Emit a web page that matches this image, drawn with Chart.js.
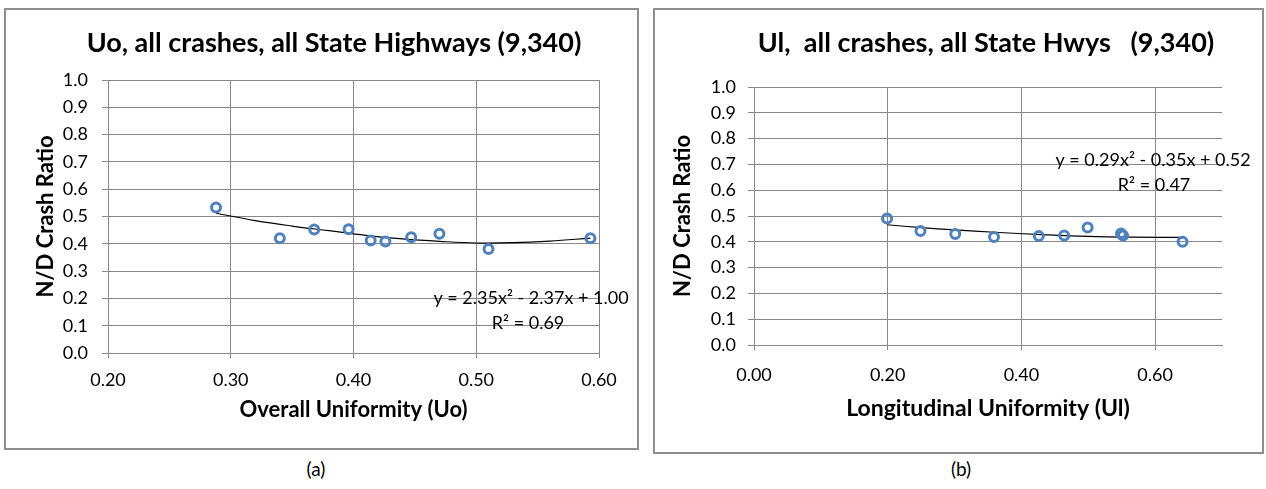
<!DOCTYPE html>
<html>
<head>
<meta charset="utf-8">
<script src="https://cdn.jsdelivr.net/npm/chart.js@4.4.1/dist/chart.umd.min.js"></script>
<style>
  html, body { margin: 0; padding: 0; background: #fff; }
  body { width: 1266px; height: 489px; position: relative; overflow: hidden; font-family: Lato, "Open Sans", sans-serif; }
  .box { position: absolute; border: 2px solid #8e8e8e; box-sizing: border-box; background: #fff; }
  .box canvas { display: block; }
  .cap { position: absolute; font-size: 19px; color: #000; transform: translateX(-50%); line-height: 22px; }
</style>
</head>
<body>
<div class="box" id="boxA" style="left:4px; top:8px; width:635px; height:442px;"><canvas id="cA"></canvas></div>
<div class="box" id="boxB" style="left:653px; top:8px; width:611px; height:446px;"><canvas id="cB"></canvas></div>
<div class="cap" style="left:316px; top:458px;">(a)</div>
<div class="cap" style="left:961px; top:458px;">(b)</div>
<script>
// ---------- data ----------
const titleA = "Uo, all crashes, all State Highways (9,340)";
const titleB = "Ul,  all crashes, all State Hwys   (9,340)";
const xTitleA = "Overall Uniformity (Uo)";
const xTitleB = "Longitudinal Uniformity (Ul)";
const yTitle = "N/D Crash Ratio";

const uoX = [0.288, 0.340, 0.368, 0.396, 0.414, 0.426, 0.447, 0.470, 0.510, 0.593];
const uoY = [0.533, 0.420, 0.452, 0.453, 0.412, 0.408, 0.424, 0.437, 0.381, 0.420];
const uoTrendX = [0.288, 0.32, 0.35, 0.38, 0.41, 0.44, 0.47, 0.50, 0.53, 0.56, 0.593];
const uoTrendY = [0.512, 0.485, 0.465, 0.448, 0.431, 0.418, 0.409, 0.403, 0.404, 0.410, 0.421];
const eqA = ["y = 2.35x\u00B2 - 2.37x + 1.00", "R\u00B2 = 0.69"];

const ulX = [0.199, 0.249, 0.301, 0.359, 0.426, 0.464, 0.499, 0.549, 0.552, 0.641];
const ulY = [0.490, 0.442, 0.430, 0.419, 0.422, 0.424, 0.455, 0.432, 0.424, 0.400];
const ulTrendX = [0.199, 0.25, 0.30, 0.36, 0.43, 0.50, 0.57, 0.641];
const ulTrendY = [0.466, 0.455, 0.446, 0.437, 0.428, 0.421, 0.418, 0.417];
const eqB = ["y = 0.29x\u00B2 - 0.35x + 0.52", "R\u00B2 = 0.47"];

const yTickLabels = ["0.0","0.1","0.2","0.3","0.4","0.5","0.6","0.7","0.8","0.9","1.0"];

// ---------- styling ----------
const FONT = "Lato, 'Open Sans', sans-serif";
const GRID = "#888888";
const BLUE = "#4F81BD";

function pts(xs, ys) { return xs.map((x, i) => ({x: x, y: ys[i]})); }

const textPlugin = {
  id: 'textPlugin',
  afterDraw(chart, args, opts) {
    const ctx = chart.ctx;
    ctx.save();
    ctx.fillStyle = '#000';
    ctx.textAlign = 'center';
    ctx.textBaseline = 'middle';
    ctx.font = "bold " + opts.titleSize + "px " + FONT;
    ctx.fillText(opts.title, opts.titleX, opts.titleY);
    ctx.font = opts.eqSize + "px " + FONT;
    ctx.fillText(opts.eq[0], opts.eqX, opts.eqY);
    ctx.fillText(opts.eq[1], opts.eqX2, opts.eqY + 25);
    ctx.restore();
  }
};

function makeChart(id, cfg) {
  const canvas = document.getElementById(id);
  canvas.width = cfg.w; canvas.height = cfg.h;
  canvas.style.width = cfg.w + 'px'; canvas.style.height = cfg.h + 'px';
  return new Chart(canvas, {
    type: 'scatter',
    data: {
      datasets: [
        {
          data: pts(cfg.px, cfg.py),
          pointStyle: 'circle',
          pointRadius: 4.5,
          pointBorderWidth: 3,
          borderColor: BLUE,
          backgroundColor: 'rgba(255,255,255,0)',
          showLine: false,
          order: 1
        },
        {
          data: pts(cfg.tx, cfg.ty),
          showLine: true,
          borderColor: '#000',
          borderWidth: 1.2,
          pointRadius: 0,
          tension: 0.4,
          order: 2
        }
      ]
    },
    plugins: [textPlugin],
    options: {
      responsive: false,
      animation: false,
      devicePixelRatio: 1,
      layout: { padding: { left: 0, top: cfg.areaTop, right: cfg.w - cfg.areaRight, bottom: 0 } },
      plugins: {
        legend: { display: false },
        tooltip: { enabled: false },
        title: { display: false },
        textPlugin: cfg.text
      },
      scales: {
        x: {
          type: 'linear',
          min: cfg.xmin, max: cfg.xmax,
          afterFit(s) { s.height = cfg.h - cfg.areaBottom; },
          grid: { color: GRID, lineWidth: 1, tickLength: 5, drawTicks: true },
          border: { display: true, color: GRID, width: 1 },
          ticks: {
            stepSize: cfg.xstep, includeBounds: false, padding: cfg.xTickPad,
            color: '#000', font: { family: FONT, size: 18 },
            callback: (v) => Number(v).toFixed(2)
          },
          title: { display: true, text: cfg.xTitle, color: '#000',
                   font: { family: FONT, size: cfg.xTitleSize, weight: 'bold' },
                   padding: { top: 0, bottom: cfg.xTitlePad } }
        },
        y: {
          type: 'linear',
          min: 0, max: 1,
          afterFit(s) { s.width = cfg.areaLeft; },
          grid: { color: GRID, lineWidth: 1, tickLength: 6, drawTicks: true },
          border: { display: true, color: GRID, width: 1 },
          ticks: {
            stepSize: 0.1, padding: cfg.yTickPad,
            color: '#000', font: { family: FONT, size: 18 },
            callback: (v, i) => yTickLabels[Math.round(v * 10)]
          },
          title: { display: true, text: yTitle, color: '#000',
                   font: { family: FONT, size: 22, weight: 'bold' },
                   padding: { top: cfg.yTitlePad, bottom: 0 } }
        }
      }
    }
  });
}

makeChart('cA', {
  w: 631, h: 438,
  areaLeft: 102, areaRight: 593, areaTop: 70, areaBottom: 343,
  xmin: 0.2, xmax: 0.6, xstep: 0.1,
  xTickPad: 11, yTickPad: 14, xTitlePad: 25, yTitlePad: 27, xTitleSize: 22,
  xTitle: xTitleA,
  px: uoX, py: uoY, tx: uoTrendX, ty: uoTrendY,
  text: { title: titleA, titleX: 328, titleY: 33, titleSize: 27, eq: eqA, eqX: 525, eqX2: 522, eqY: 288, eqSize: 18 }
});

makeChart('cB', {
  w: 607, h: 442,
  areaLeft: 99, areaRight: 567, areaTop: 77, areaBottom: 335,
  xmin: 0, xmax: 0.7, xstep: 0.2,
  xTickPad: 14, yTickPad: 12, xTitlePad: 30, yTitlePad: 15, xTitleSize: 23,
  xTitle: xTitleB,
  px: ulX, py: ulY, tx: ulTrendX, ty: ulTrendY,
  text: { title: titleB, titleX: 331, titleY: 33, titleSize: 27, eq: eqB, eqX: 498, eqX2: 499, eqY: 150, eqSize: 18 }
});
</script>
</body>
</html>
